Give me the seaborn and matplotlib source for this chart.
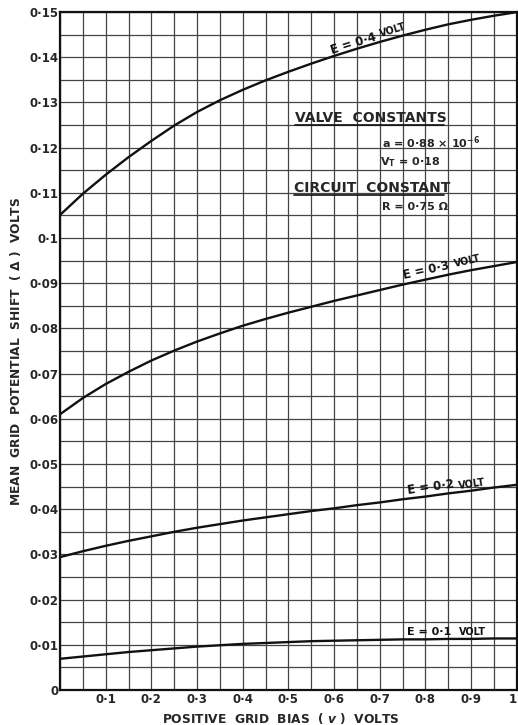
import numpy as np
import pandas as pd
import matplotlib.pyplot as plt
import matplotlib.ticker as mticker
import seaborn as sns

bias = [0.0, 0.05, 0.1, 0.15, 0.2, 0.25, 0.3, 0.35, 0.4, 0.45, 0.5,
        0.55, 0.6, 0.65, 0.7, 0.75, 0.8, 0.85, 0.9, 0.95, 1.0]

# mean grid potential shift for each input E
shift_e04 = [0.1051, 0.1098, 0.1140, 0.1179, 0.1215, 0.1249, 0.1279, 0.1305, 0.1328, 0.1349, 0.1368,
             0.1386, 0.1403, 0.1419, 0.1434, 0.1448, 0.1461, 0.1473, 0.1483, 0.1492, 0.1500]
shift_e03 = [0.0610, 0.0646, 0.0677, 0.0704, 0.0729, 0.0751, 0.0771, 0.0789, 0.0806, 0.0821, 0.0835,
             0.0848, 0.0861, 0.0873, 0.0885, 0.0897, 0.0908, 0.0919, 0.0929, 0.0938, 0.0947]
shift_e02 = [0.0294, 0.0307, 0.0319, 0.0330, 0.0340, 0.0350, 0.0359, 0.0367, 0.0375, 0.0382, 0.0389,
             0.0396, 0.0402, 0.0409, 0.0415, 0.0422, 0.0428, 0.0435, 0.0441, 0.0448, 0.0454]
shift_e01 = [0.0069, 0.0074, 0.0079, 0.0084, 0.0088, 0.0092, 0.0096, 0.0099, 0.0102, 0.0104, 0.0106,
             0.0108, 0.0109, 0.0110, 0.0111, 0.0112, 0.0112, 0.0113, 0.0113, 0.0114, 0.0114]

curve_names = ['E = 0·4', 'E = 0·3', 'E = 0·2', 'E = 0·1']

x_ticks = [0.1, 0.2, 0.3, 0.4, 0.5, 0.6, 0.7, 0.8, 0.9, 1.0]
x_ticklabels = ['0·1', '0·2', '0·3', '0·4', '0·5', '0·6', '0·7', '0·8', '0·9', '1']
y_ticks = [0.0, 0.01, 0.02, 0.03, 0.04, 0.05, 0.06, 0.07, 0.08, 0.09, 0.1,
           0.11, 0.12, 0.13, 0.14, 0.15]
y_ticklabels = ['0', '0·01', '0·02', '0·03', '0·04', '0·05', '0·06', '0·07', '0·08',
                '0·09', '0·1', '0·11', '0·12', '0·13', '0·14', '0·15']

df = pd.DataFrame({
    'bias': bias * 4,
    'shift': shift_e04 + shift_e03 + shift_e02 + shift_e01,
    'E': sum([[n] * len(bias) for n in curve_names], []),
})

sns.set_style('white')
plt.rcParams['font.family'] = ['DejaVu Sans']
plt.rcParams['font.weight'] = 'bold'
plt.rcParams['mathtext.default'] = 'regular'

fig = plt.figure(figsize=(5.18, 7.25), dpi=100)
ax = fig.add_axes([0.1158, 0.0483, 0.882, 0.935])

sns.lineplot(data=df, x='bias', y='shift', hue='E', palette=['#111111'] * 4,
             linewidth=1.7, legend=False, ax=ax, sort=True)

ax.set_xlim(0, 1)
ax.set_ylim(0, 0.15)

# graph paper grid
ax.xaxis.set_minor_locator(mticker.MultipleLocator(0.05))
ax.yaxis.set_minor_locator(mticker.MultipleLocator(0.005))
ax.grid(which='both', color='#444444', linewidth=0.9)
ax.set_axisbelow(True)

ax.set_xticks(x_ticks)
ax.set_xticklabels(x_ticklabels, fontsize=8.5, fontweight='bold')
ax.get_xticklabels()[-1].set_horizontalalignment('right')
ax.set_yticks(y_ticks)
ax.set_yticklabels(y_ticklabels, fontsize=8.5, fontweight='bold')
ax.tick_params(which='both', length=0, pad=2)
ax.tick_params(axis='y', pad=1)
for s in ax.spines.values():
    s.set_color('#111111')
    s.set_linewidth(1.6)

ax.set_xlabel('POSITIVE  GRID  BIAS  ( $\\it{v}$ )  VOLTS', fontsize=8.8,
              fontweight='bold', labelpad=4)
ax.xaxis.label.set_x(0.483)
ax.set_ylabel('MEAN  GRID  POTENTIAL  SHIFT  ( $\\Delta$ )  VOLTS', fontsize=8.8,
              fontweight='bold', labelpad=5)

# curve labels: "E = .." then a smaller "VOLT"
lab = dict(rotation_mode='anchor', ha='left', va='bottom', fontweight='bold', color='#111111')
ax.text(0.597, 0.1400, 'E = 0·4', rotation=17, fontsize=8.5, **lab)
ax.text(0.704, 0.1441, 'VOLT', rotation=17, fontsize=7, **lab)
ax.text(0.755, 0.0903, 'E = 0·3', rotation=12.5, fontsize=8.5, **lab)
ax.text(0.866, 0.0931, 'VOLT', rotation=12.5, fontsize=7, **lab)
ax.text(0.762, 0.0426, 'E = 0·2', rotation=8, fontsize=8.5, **lab)
ax.text(0.873, 0.0441, 'VOLT', rotation=8, fontsize=7, **lab)
ax.text(0.760, 0.0118, 'E = 0·1', rotation=0, fontsize=8, **lab)
ax.text(0.874, 0.0118, 'VOLT', rotation=0, fontsize=7, **lab)

# constants block
ax.text(0.514, 0.1256, 'VALVE  CONSTANTS', fontsize=10, fontweight='bold', va='baseline')
ax.plot([0.514, 0.84], [0.1250, 0.1250], color='#111111', lw=1.2)
ax.text(0.705, 0.1201, 'a = 0·88 × 10$^{-6}$', fontsize=8, fontweight='bold', va='baseline')
ax.text(0.700, 0.1162, 'V$_T$ = 0·18', fontsize=8, fontweight='bold', va='baseline')
ax.text(0.512, 0.1102, 'CIRCUIT  CONSTANT', fontsize=10, fontweight='bold', va='baseline')
ax.plot([0.512, 0.84], [0.1096, 0.1096], color='#111111', lw=1.2)
ax.text(0.705, 0.1062, 'R = 0·75 Ω', fontsize=8, fontweight='bold', va='baseline')

fig.savefig('out.png', dpi=100)
